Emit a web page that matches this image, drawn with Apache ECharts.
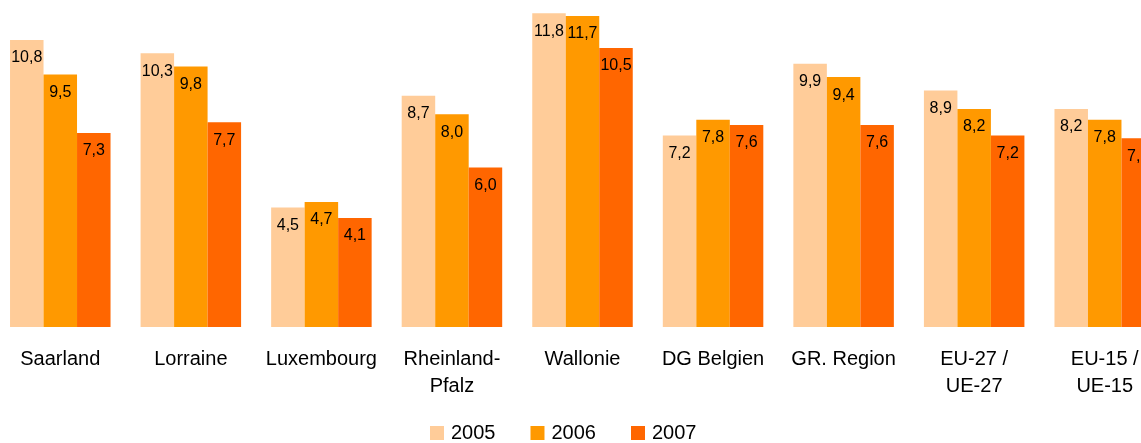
<!DOCTYPE html>
<html>
<head>
<meta charset="utf-8">
<script src="https://cdn.jsdelivr.net/npm/echarts@6/dist/echarts.min.js"></script>
<style>
  html, body { margin: 0; padding: 0; background: #fff; overflow: hidden; }
  /* chart is a bit wider than the window: the last group gets cut off on the right */
  #box { width: 1175px; height: 443px; margin-left: -5px; }
</style>
</head>
<body>
<div id="box"></div>
<script>
var regions = ['Saarland', 'Lorraine', 'Luxembourg', 'Rheinland-\nPfalz', 'Wallonie',
               'DG Belgien', 'GR. Region', 'EU-27 /\nUE-27', 'EU-15 /\nUE-15'];
var years = ['2005', '2006', '2007'];
var v2005 = [10.8, 10.3, 4.5, 8.7, 11.8, 7.2, 9.9, 8.9, 8.2];
var v2006 = [9.5, 9.8, 4.7, 8.0, 11.7, 7.8, 9.4, 8.2, 7.8];
var v2007 = [7.3, 7.7, 4.1, 6.0, 10.5, 7.6, 7.6, 7.2, 7.1];
var colors = ['#FFCC99', '#FF9900', '#FF6600'];

var myChart = echarts.init(document.getElementById('box'));

function bar(name, data, color) {
    return {
        name: name,
        type: 'bar',
        data: data,
        barWidth: 33.5,
        barGap: '0%',
        itemStyle: { color: color },
        label: {
            show: true,
            position: 'insideTop',
            distance: 10,
            color: '#000',
            fontFamily: 'Liberation Sans',
            fontSize: 16,
            formatter: function (p) { return p.value.toFixed(1).replace('.', ','); }
        }
    };
}

var option = {
    animation: false,
    color: colors,
    grid: { left: 0, right: 0, top: 8, bottom: 116, containLabel: false },
    legend: {
        top: 423,
        left: 435,
        padding: 0,
        itemWidth: 14,
        itemHeight: 14,
        itemGap: 35,
        icon: 'rect',
        textStyle: { fontFamily: 'Liberation Sans', fontSize: 20, color: '#000', padding: [0, 0, 0, 2] },
        data: years
    },
    xAxis: {
        type: 'category',
        data: regions,
        axisLine: { show: false },
        axisTick: { show: false },
        axisLabel: {
            margin: 19,
            color: '#000',
            fontFamily: 'Liberation Sans',
            fontSize: 20,
            lineHeight: 27,
            interval: 0
        }
    },
    yAxis: {
        type: 'value',
        min: 0,
        max: 12,
        show: false,
        splitLine: { show: false }
    },
    series: [
        bar(years[0], v2005, colors[0]),
        bar(years[1], v2006, colors[1]),
        bar(years[2], v2007, colors[2])
    ]
};

option && myChart.setOption(option);
</script>
</body>
</html>
